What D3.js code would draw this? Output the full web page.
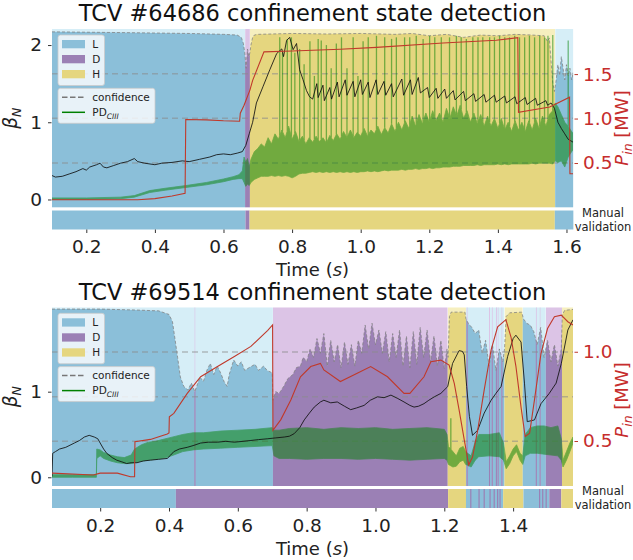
<!DOCTYPE html>
<html>
<head>
<meta charset="utf-8">
<script src="https://d3js.org/d3.v7.min.js"></script>
<style>
  body { margin: 0; background: #fff; }
  svg { font-family: "DejaVu Sans", sans-serif; }
</style>
</head>
<body>
<svg id="chart" width="633" height="560"></svg>
<script>
// ---- shot 64686 (top) ----
var topStates = [[0.1, 0.663, "L"], [0.663, 0.677, "D"], [0.677, 1.567, "H"], [1.567, 1.62, "L"]];
var topManual = [[0.1, 0.664, "L"], [0.664, 0.676, "D"], [0.676, 1.566, "H"], [1.566, 1.62, "L"]];
var topConf = [[0.1,0.984],[0.3,0.98],[0.5,0.975],[0.6,0.97],[0.64,0.966],[0.652,0.953],[0.658,0.919],[0.662,0.867],[0.666,0.78],[0.67,0.888],[0.674,0.845],[0.677,0.867],[0.68,0.91],[0.685,0.953],[0.69,0.966],[0.7,0.97],[0.8,0.975],[0.9,0.972],[1.0,0.975],[1.1,0.97],[1.15,0.975],[1.2,0.962],[1.25,0.97],[1.3,0.953],[1.35,0.966],[1.4,0.962],[1.45,0.97],[1.5,0.966],[1.535,0.962],[1.545,0.93],[1.55,0.95],[1.555,0.82],[1.56,0.7],[1.565,0.65],[1.57,0.715],[1.575,0.8],[1.58,0.74],[1.585,0.845],[1.59,0.78],[1.595,0.715],[1.6,0.8],[1.605,0.737],[1.61,0.78],[1.615,0.715],[1.62,0.76]];
var topBeta = [[0.1,0.31],[0.11,0.29],[0.13,0.30],[0.15,0.33],[0.17,0.36],[0.19,0.40],[0.2,0.38],[0.21,0.42],[0.23,0.45],[0.24,0.47],[0.25,0.42],[0.26,0.41],[0.28,0.44],[0.3,0.47],[0.32,0.49],[0.34,0.53],[0.35,0.49],[0.37,0.47],[0.4,0.45],[0.42,0.47],[0.45,0.48],[0.48,0.50],[0.5,0.49],[0.53,0.52],[0.56,0.55],[0.58,0.58],[0.6,0.59],[0.62,0.58],[0.64,0.6],[0.655,0.62],[0.665,0.7],[0.675,0.85],[0.685,1.0],[0.696,1.25],[0.715,1.46],[0.735,1.68],[0.755,1.89],[0.77,1.95],[0.775,1.85],[0.784,2.06],[0.793,2.1],[0.803,1.94],[0.813,2.02],[0.822,1.68],[0.832,1.55],[0.842,1.41],[0.851,1.33],[0.86,1.30],[0.872,1.5],[0.876,1.32],[0.89,1.48],[0.894,1.28],[0.91,1.45],[0.915,1.30],[0.932,1.52],[0.937,1.33],[0.955,1.55],[0.96,1.35],[0.978,1.53],[0.983,1.33],[1.0,1.55],[1.005,1.36],[1.022,1.52],[1.027,1.32],[1.045,1.55],[1.05,1.36],[1.068,1.53],[1.073,1.35],[1.09,1.5],[1.095,1.33],[1.12,1.56],[1.125,1.35],[1.145,1.55],[1.15,1.36],[1.168,1.58],[1.174,1.38],[1.195,1.45],[1.2,1.32],[1.22,1.44],[1.225,1.31],[1.245,1.43],[1.25,1.31],[1.27,1.41],[1.275,1.29],[1.3,1.4],[1.305,1.28],[1.33,1.37],[1.335,1.27],[1.36,1.36],[1.365,1.26],[1.39,1.35],[1.395,1.26],[1.42,1.34],[1.425,1.25],[1.45,1.33],[1.455,1.24],[1.48,1.32],[1.485,1.23],[1.51,1.31],[1.515,1.22],[1.54,1.28],[1.545,1.22],[1.555,1.25],[1.565,1.18],[1.575,1.0],[1.585,0.92],[1.595,0.85],[1.605,0.78],[1.62,0.74]];
var topPin = [[0.1,0.087],[0.35,0.087],[0.4,0.1],[0.45,0.13],[0.488,0.16],[0.49,0.99],[0.55,0.985],[0.6,0.975],[0.647,0.97],[0.649,1.06],[0.66,1.15],[0.677,1.32],[0.685,1.43],[0.718,1.75],[0.8,1.76],[0.94,1.78],[1.046,1.8],[1.24,1.85],[1.395,1.88],[1.458,1.91],[1.46,1.07],[1.551,1.13],[1.609,1.24],[1.61,0.38],[1.62,0.38]];
var topPD = [[0.10,0.00,0.02],[0.20,0.00,0.02],[0.30,0.01,0.03],[0.34,0.03,0.05],[0.385,0.09,0.115],[0.43,0.12,0.145],[0.49,0.155,0.18],[0.55,0.19,0.22],[0.60,0.23,0.265],[0.628,0.26,0.295],[0.645,0.27,0.32],[0.655,0.27,0.37],[0.66,0.22,0.55],[0.665,0.17,0.48],[0.67,0.2,0.53],[0.675,0.18,0.42],[0.68,0.22,0.52],[0.69,0.26,0.62],[0.70,0.28,0.66],[0.71,0.3,0.72],[0.72,0.3,0.68],[0.73,0.3,0.8],[0.74,0.31,0.72],[0.75,0.3,0.85],[0.76,0.31,0.78],[0.77,0.3,0.9],[0.78,0.31,0.8],[0.79,0.3,0.95],[0.80,0.28,0.78],[0.81,0.3,0.88],[0.82,0.33,0.75],[0.83,0.34,0.82],[0.84,0.34,0.72],[0.85,0.35,0.8],[0.86,0.36,0.74],[0.87,0.35,0.82],[0.88,0.36,0.75],[0.89,0.35,0.8],[0.90,0.36,0.73],[0.91,0.35,0.83],[0.92,0.36,0.76],[0.93,0.35,0.85],[0.94,0.36,0.78],[0.95,0.35,0.88],[0.96,0.36,0.8],[0.97,0.35,0.9],[0.98,0.36,0.8],[0.99,0.35,0.87],[1.00,0.36,0.82],[1.01,0.36,0.92],[1.02,0.37,0.82],[1.03,0.36,0.9],[1.04,0.37,0.85],[1.05,0.36,0.95],[1.06,0.37,0.84],[1.07,0.38,0.93],[1.08,0.37,0.86],[1.09,0.38,0.98],[1.10,0.38,0.88],[1.11,0.38,1.0],[1.12,0.39,0.9],[1.13,0.38,1.02],[1.14,0.39,0.92],[1.15,0.39,1.08],[1.16,0.40,0.95],[1.17,0.39,1.1],[1.18,0.4,0.98],[1.19,0.4,1.12],[1.20,0.41,1.0],[1.21,0.4,1.15],[1.22,0.41,1.02],[1.23,0.41,1.12],[1.24,0.42,1.0],[1.25,0.42,1.18],[1.26,0.42,1.05],[1.27,0.43,1.2],[1.28,0.43,1.08],[1.29,0.43,1.22],[1.30,0.44,1.05],[1.31,0.44,1.15],[1.32,0.44,1.0],[1.33,0.44,1.12],[1.34,0.45,0.98],[1.35,0.44,1.1],[1.36,0.45,0.95],[1.37,0.45,1.08],[1.38,0.45,0.95],[1.39,0.45,1.05],[1.40,0.46,0.92],[1.41,0.45,1.05],[1.42,0.46,0.9],[1.43,0.45,1.0],[1.44,0.46,0.88],[1.45,0.46,1.02],[1.46,0.46,0.9],[1.47,0.46,1.0],[1.48,0.46,0.88],[1.49,0.46,1.02],[1.50,0.47,0.9],[1.51,0.46,1.05],[1.52,0.47,0.92],[1.53,0.47,1.08],[1.54,0.47,0.95],[1.55,0.47,1.1],[1.56,0.46,1.15],[1.567,0.5,1.25],[1.575,0.48,1.2],[1.585,0.5,1.1],[1.595,0.42,1.0],[1.605,0.55,0.95],[1.612,0.6,0.9],[1.62,0.65,0.85]];
var topSpikes = [[0.764,2.1],[0.772,1.9],[0.786,2.08],[0.798,2.1],[0.808,1.9],[0.822,1.95],[0.835,1.75],[0.852,2.05],[0.865,1.6],[0.876,2.08],[0.885,2.06],[0.9,2.0],[0.914,1.7],[0.929,2.02],[0.944,2.1],[0.96,1.7],[0.978,2.1],[0.992,1.6],[1.007,2.05],[1.022,2.1],[1.046,2.12],[1.07,2.1],[1.09,2.08],[1.104,2.1],[1.128,2.1],[1.143,2.1],[1.162,2.12],[1.182,2.08],[1.201,2.12],[1.216,2.1],[1.235,2.1],[1.259,2.1],[1.279,2.12],[1.293,2.1],[1.308,2.08],[1.327,2.1],[1.342,2.1],[1.356,2.1],[1.376,2.1],[1.39,2.1],[1.405,2.12],[1.42,2.1],[1.434,2.1],[1.449,2.12],[1.463,2.1],[1.478,2.1],[1.492,2.12],[1.507,2.1],[1.522,2.12],[1.536,2.1],[1.546,2.12],[1.56,2.13],[1.605,2.06]];

// ---- shot 69514 (bottom) ----
var botStates = [[0.06,0.702,"L"],[0.702,1.21,"D"],[1.21,1.263,"H"],[1.263,1.375,"L"],[1.375,1.428,"H"],[1.428,1.495,"L"],[1.495,1.542,"D"],[1.542,1.574,"H"]];
var botFlickers = [0.475, 1.266, 1.331, 1.339, 1.351, 1.356, 1.367, 1.467, 1.478];
var botManual = [[0.06,0.42,"L"],[0.42,1.211,"D"],[1.211,1.263,"H"],[1.263,1.371,"L"],[1.371,1.43,"H"],[1.43,1.505,"L"],[1.505,1.54,"D"],[1.54,1.574,"H"]];
var botManualFlickers = [1.277, 1.301, 1.316, 1.333, 1.345, 1.355, 1.362, 1.477, 1.486, 1.496];
var botConf = [[0.06,0.99],[0.2,0.99],[0.3,0.985],[0.37,0.98],[0.4,0.96],[0.41,0.92],[0.418,0.815],[0.425,0.72],[0.433,0.61],[0.443,0.557],[0.455,0.537],[0.465,0.576],[0.475,0.528],[0.49,0.609],[0.5,0.585],[0.51,0.647],[0.52,0.686],[0.53,0.624],[0.54,0.671],[0.55,0.633],[0.56,0.585],[0.569,0.557],[0.575,0.624],[0.588,0.705],[0.6,0.671],[0.61,0.695],[0.62,0.647],[0.637,0.667],[0.65,0.681],[0.66,0.647],[0.675,0.671],[0.685,0.647],[0.7,0.633],[0.702,0.48],[0.71,0.528],[0.72,0.518],[0.733,0.557],[0.745,0.6],[0.76,0.624],[0.77,0.662],[0.782,0.671],[0.79,0.72],[0.8,0.695],[0.81,0.767],[0.82,0.72],[0.83,0.825],[0.84,0.743],[0.85,0.853],[0.86,0.671],[0.87,0.815],[0.88,0.695],[0.89,0.791],[0.9,0.662],[0.91,0.806],[0.92,0.681],[0.93,0.791],[0.94,0.671],[0.95,0.815],[0.96,0.743],[0.97,0.901],[0.98,0.767],[0.99,0.911],[1.0,0.791],[1.01,0.873],[1.02,0.743],[1.03,0.864],[1.04,0.695],[1.05,0.853],[1.06,0.72],[1.07,0.873],[1.08,0.671],[1.09,0.839],[1.1,0.662],[1.11,0.864],[1.12,0.681],[1.13,0.887],[1.14,0.72],[1.15,0.873],[1.16,0.695],[1.17,0.839],[1.18,0.671],[1.19,0.815],[1.2,0.657],[1.208,0.767],[1.211,0.72],[1.215,0.949],[1.22,0.973],[1.26,0.973],[1.263,0.935],[1.27,0.91],[1.28,0.887],[1.29,0.853],[1.3,0.873],[1.31,0.743],[1.32,0.815],[1.33,0.671],[1.34,0.791],[1.35,0.647],[1.36,0.767],[1.37,0.695],[1.375,0.767],[1.38,0.949],[1.39,0.969],[1.425,0.973],[1.43,0.935],[1.44,0.91],[1.45,0.9],[1.46,0.864],[1.47,0.791],[1.48,0.887],[1.49,0.719],[1.5,0.815],[1.51,0.695],[1.52,0.791],[1.53,0.671],[1.54,0.767],[1.543,0.959],[1.55,0.983],[1.574,0.988]];
var botBeta = [[0.06,0.01],[0.062,0.28],[0.07,0.3],[0.082,0.33],[0.1,0.35],[0.125,0.4],[0.14,0.43],[0.154,0.47],[0.168,0.49],[0.183,0.47],[0.193,0.45],[0.2,0.40],[0.21,0.33],[0.219,0.28],[0.235,0.23],[0.248,0.2],[0.263,0.18],[0.277,0.16],[0.29,0.17],[0.307,0.17],[0.325,0.19],[0.346,0.2],[0.37,0.21],[0.395,0.22],[0.405,0.26],[0.414,0.3],[0.43,0.33],[0.453,0.35],[0.47,0.37],[0.492,0.4],[0.515,0.41],[0.541,0.41],[0.565,0.42],[0.59,0.41],[0.615,0.42],[0.638,0.43],[0.66,0.44],[0.687,0.45],[0.71,0.46],[0.735,0.47],[0.75,0.48],[0.764,0.51],[0.78,0.58],[0.793,0.67],[0.808,0.75],[0.822,0.82],[0.84,0.88],[0.85,0.9],[0.87,0.87],[0.889,0.88],[0.91,0.83],[0.928,0.79],[0.945,0.81],[0.967,0.84],[0.985,0.9],[1.006,0.94],[1.025,0.93],[1.045,0.96],[1.065,0.92],[1.083,0.88],[1.1,0.84],[1.112,0.82],[1.125,0.83],[1.141,0.86],[1.155,0.9],[1.171,0.94],[1.19,0.98],[1.21,1.06],[1.224,1.33],[1.243,1.48],[1.253,1.47],[1.258,1.43],[1.265,1.06],[1.273,0.71],[1.282,0.49],[1.297,0.55],[1.316,0.75],[1.336,0.9],[1.35,0.98],[1.365,1.06],[1.384,1.41],[1.4,1.62],[1.408,1.66],[1.423,1.58],[1.433,1.1],[1.441,0.65],[1.462,0.67],[1.481,0.86],[1.505,0.98],[1.525,1.1],[1.54,1.33],[1.559,1.72],[1.574,1.84]];
var botPin = [[0.06,0.32],[0.18,0.31],[0.2,0.32],[0.25,0.32],[0.288,0.30],[0.3,0.30],[0.301,0.496],[0.346,0.509],[0.395,0.539],[0.4,0.545],[0.401,0.636],[0.414,0.655],[0.453,0.767],[0.492,0.86],[0.541,0.917],[0.59,0.973],[0.638,1.03],[0.687,1.12],[0.701,1.15],[0.702,0.56],[0.725,0.62],[0.754,0.73],[0.782,0.86],[0.812,0.917],[0.84,0.935],[0.85,0.898],[0.898,0.833],[0.947,0.88],[0.986,0.917],[1.035,0.86],[1.083,0.767],[1.1,0.767],[1.141,0.86],[1.161,0.944],[1.19,0.953],[1.214,0.925],[1.229,0.823],[1.243,0.674],[1.258,0.506],[1.271,0.366],[1.282,0.41],[1.297,0.56],[1.316,0.786],[1.336,1.01],[1.355,1.14],[1.379,1.18],[1.394,1.08],[1.408,0.92],[1.423,0.69],[1.435,0.525],[1.448,0.544],[1.462,0.73],[1.481,0.99],[1.5,1.13],[1.52,1.196],[1.54,1.205],[1.559,1.168],[1.574,1.15]];
var botPD = [[0.06,0.0,0.03],[0.12,0.0,0.03],[0.189,0.0,0.03],[0.19,0.22,0.33],[0.2,0.25,0.32],[0.21,0.22,0.29],[0.23,0.19,0.26],[0.25,0.17,0.24],[0.27,0.16,0.23],[0.29,0.16,0.26],[0.3,0.17,0.33],[0.32,0.19,0.38],[0.34,0.2,0.41],[0.36,0.21,0.42],[0.38,0.22,0.44],[0.4,0.24,0.46],[0.42,0.27,0.48],[0.44,0.3,0.5],[0.47,0.32,0.52],[0.5,0.33,0.52],[0.55,0.34,0.54],[0.6,0.35,0.55],[0.65,0.36,0.56],[0.7,0.37,0.58],[0.705,0.25,0.55],[0.72,0.22,0.55],[0.75,0.22,0.57],[0.8,0.21,0.58],[0.85,0.22,0.56],[0.9,0.22,0.58],[0.95,0.21,0.57],[1.0,0.22,0.58],[1.05,0.21,0.56],[1.1,0.2,0.57],[1.15,0.21,0.58],[1.2,0.22,0.56],[1.208,0.2,0.5],[1.212,0.15,0.36],[1.225,0.12,0.3],[1.235,0.13,0.25],[1.245,0.18,0.34],[1.255,0.2,0.36],[1.262,0.15,0.3],[1.268,0.14,0.28],[1.278,0.12,0.25],[1.29,0.2,0.42],[1.3,0.24,0.5],[1.33,0.25,0.5],[1.36,0.24,0.52],[1.372,0.2,0.4],[1.38,0.1,0.18],[1.39,0.16,0.25],[1.4,0.25,0.33],[1.41,0.3,0.38],[1.42,0.2,0.28],[1.428,0.15,0.25],[1.435,0.25,0.5],[1.45,0.28,0.58],[1.47,0.28,0.6],[1.49,0.27,0.6],[1.51,0.26,0.58],[1.53,0.25,0.6],[1.54,0.2,0.45],[1.545,0.12,0.2],[1.555,0.2,0.3],[1.565,0.3,0.4],[1.574,0.4,0.47]];
var botSpikes = [[1.219,0.69]];

var timeTicksTop = [0.2, 0.4, 0.6, 0.8, 1.0, 1.2, 1.4, 1.6];
var timeTicksBot = [0.2, 0.4, 0.6, 0.8, 1.0, 1.2, 1.4];
var stateNames = ["L", "D", "H"];
var confLevels = [0.25, 0.5, 0.75];

var strong = { L: "#8bbfd9", D: "#9b80b5", H: "#e5d67f" };
var light = { L: "#d6eef7", D: "#dcc4e6", H: "#f6efbf" };
var redCol = "#c0392b";

var svg = d3.select("#chart");
var defs = svg.append("defs");
var clipN = 0;
var x0 = 52, x1 = 573;

function newClip(x, y, w, h) {
  var id = "clip" + (clipN++);
  defs.append("clipPath").attr("id", id).append("rect")
    .attr("x", x).attr("y", y).attr("width", w).attr("height", h);
  return "url(#" + id + ")";
}

function drawPanel(p) {
  var x = d3.scaleLinear().domain(p.xDomain).range([x0, x1]);
  var y = d3.scaleLinear().domain(p.yDomain).range([p.bottom, p.top]);
  var yp = d3.scaleLinear().domain(p.pDomain).range([p.bottom, p.top]);
  var yc = d3.scaleLinear().domain([0, 1]).range([p.bottom, p.top]);
  var g = svg.append("g");
  var h = p.bottom - p.top;

  var confArea = d3.area().x(function(d) { return x(d[0]); }).y0(p.bottom).y1(function(d) { return yc(d[1]); });

  function segment(t0, t1, s) {
    var w = Math.max(x(t1) - x(t0), 1.1);
    var sg = g.append("g").attr("clip-path", newClip(x(t0), p.top, w, h));
    sg.append("rect").attr("x", x(t0)).attr("y", p.top).attr("width", w).attr("height", h).attr("fill", light[s]);
    sg.append("path").datum(p.conf).attr("d", confArea).attr("fill", strong[s]);
  }
  p.states.forEach(function(s) { segment(s[0], s[1], s[2]); });
  p.flickers.forEach(function(t) { segment(t - 0.0012, t + 0.0012, "D"); });

  var main = g.append("g").attr("clip-path", newClip(x0, p.top, x1 - x0, h));

  // confidence curve
  main.append("path").datum(p.conf)
    .attr("d", d3.line().x(function(d) { return x(d[0]); }).y(function(d) { return yc(d[1]); }))
    .attr("fill", "none").attr("stroke", "#808080").attr("stroke-opacity", 0.75)
    .attr("stroke-width", 1).attr("stroke-dasharray", "3,2");

  // confidence levels
  main.selectAll(".lvl").data(confLevels).enter().append("line")
    .attr("x1", x0).attr("x2", x1)
    .attr("y1", function(d) { return yc(d); }).attr("y2", function(d) { return yc(d); })
    .attr("stroke", "#8a8a8a").attr("stroke-opacity", 0.55)
    .attr("stroke-width", 1.5).attr("stroke-dasharray", "6,4");

  // photodiode
  var pd = main.append("g").attr("opacity", 0.5);
  pd.append("path").datum(p.pd)
    .attr("d", d3.area().x(function(d) { return x(d[0]); }).y0(function(d) { return y(d[1]); }).y1(function(d) { return y(d[2]); }))
    .attr("fill", "#008000").attr("stroke", "#008000").attr("stroke-width", 0.8);
  var base = d3.scaleLinear().domain(p.pd.map(function(d) { return d[0]; })).range(p.pd.map(function(d) { return d[2]; }));
  pd.selectAll(".spk").data(p.spikes).enter().append("line")
    .attr("x1", function(d) { return x(d[0]); }).attr("x2", function(d) { return x(d[0]); })
    .attr("y1", function(d) { return y(base(d[0])); }).attr("y2", function(d) { return y(d[1]); })
    .attr("stroke", "#008000").attr("stroke-width", 1.3);

  // beta_N
  main.append("path").datum(p.beta)
    .attr("d", d3.line().x(function(d) { return x(d[0]); }).y(function(d) { return y(d[1]); }))
    .attr("fill", "none").attr("stroke", "#111").attr("stroke-opacity", 0.85).attr("stroke-width", 1);

  // input power
  main.append("path").datum(p.pin)
    .attr("d", d3.line().x(function(d) { return x(d[0]); }).y(function(d) { return yp(d[1]); }))
    .attr("fill", "none").attr("stroke", redCol).attr("stroke-width", 1.1);

  // manual validation strip
  var sh = p.stripBottom - p.stripTop;
  g.selectAll(".man").data(p.manual).enter().append("rect")
    .attr("x", function(d) { return x(d[0]); }).attr("y", p.stripTop)
    .attr("width", function(d) { return x(d[1]) - x(d[0]); }).attr("height", sh)
    .attr("fill", function(d) { return strong[d[2]]; });
  g.selectAll(".manf").data(p.manualFlickers).enter().append("rect")
    .attr("x", function(d) { return x(d) - 0.6; }).attr("y", p.stripTop)
    .attr("width", 1.2).attr("height", sh).attr("fill", strong.D);
  g.append("text").attr("x", 603).attr("y", p.stripTop + 6).attr("font-size", 11.5)
    .attr("fill", "#222").attr("text-anchor", "middle").text("Manual");
  g.append("text").attr("x", 603).attr("y", p.stripTop + 20).attr("font-size", 11.5)
    .attr("fill", "#222").attr("text-anchor", "middle").text("validation");

  // axes
  var ax = g.append("g").attr("transform", "translate(0," + p.stripBottom + ")")
    .call(d3.axisBottom(x).tickValues(p.xTicks).tickFormat(d3.format(".1f")).tickSize(3.5).tickPadding(7));
  var ay = g.append("g").attr("transform", "translate(" + (x0 - 0.5) + ",0)")
    .call(d3.axisLeft(y).tickValues(p.yTicks).tickFormat(d3.format("d")).tickSize(3.5).tickPadding(6));
  var ar = g.append("g").attr("transform", "translate(" + (x1 + 1.5) + ",0)")
    .call(d3.axisRight(yp).tickValues(p.pTicks).tickFormat(d3.format(".1f")).tickSize(3.5).tickPadding(5));
  [ax, ay, ar].forEach(function(a) {
    a.attr("font-size", 18.5).attr("font-family", "DejaVu Sans, sans-serif");
    a.select(".domain").remove();
    a.selectAll("line").attr("stroke", "#333").attr("stroke-width", 1);
    a.selectAll("text").attr("fill", "#222");
  });
  ar.selectAll("line").attr("stroke", redCol);
  ar.selectAll("text").attr("fill", "#c62d2d");

  // titles and labels
  g.append("text").attr("x", (x0 + x1) / 2).attr("y", p.titleY).attr("text-anchor", "middle")
    .attr("font-size", 22.5).attr("fill", "#111").text(p.title);
  var tl = g.append("text").attr("x", (x0 + x1) / 2).attr("y", p.stripBottom + 46.5)
    .attr("text-anchor", "middle").attr("font-size", 18).attr("fill", "#222");
  tl.append("tspan").text("Time (");
  tl.append("tspan").attr("font-style", "italic").text("s");
  tl.append("tspan").text(")");

  var bl = g.append("text").attr("transform", "translate(17," + ((p.top + p.bottom) / 2) + ") rotate(-90)")
    .attr("text-anchor", "middle").attr("font-size", 18.5).attr("fill", "#222");
  bl.append("tspan").attr("font-style", "italic").text("β");
  bl.append("tspan").attr("font-style", "italic").attr("font-size", 12.5).attr("dy", 4).text("N");

  var pl = g.append("text").attr("transform", "translate(627.5," + p.pLabelY + ") rotate(-90)")
    .attr("text-anchor", "middle").attr("font-size", 18).attr("fill", "#c62d2d");
  pl.append("tspan").attr("font-style", "italic").text("P");
  pl.append("tspan").attr("font-style", "italic").attr("font-size", 12.5).attr("dy", 4).text("in");
  pl.append("tspan").attr("dy", -4).text(" [MW]");

  // legends
  var lg = g.append("g").attr("font-size", 10.5).attr("fill", "#222");
  lg.append("rect").attr("x", 58).attr("y", p.top + 6).attr("width", 46.5).attr("height", 50.5)
    .attr("rx", 2.5).attr("fill", "#fff").attr("fill-opacity", 0.8).attr("stroke", "#ccc").attr("stroke-width", 0.8);
  stateNames.forEach(function(s, i) {
    lg.append("rect").attr("x", 62).attr("y", p.top + 11 + i * 15).attr("width", 23).attr("height", 8.3).attr("fill", strong[s]);
    lg.append("text").attr("x", 92.3).attr("y", p.top + 18.5 + i * 15).text(s);
  });
  lg.append("rect").attr("x", 58).attr("y", p.top + 59.3).attr("width", 97).attr("height", 35)
    .attr("rx", 2.5).attr("fill", "#fff").attr("fill-opacity", 0.8).attr("stroke", "#ccc").attr("stroke-width", 0.8);
  lg.append("line").attr("x1", 62).attr("x2", 84).attr("y1", p.top + 68.3).attr("y2", p.top + 68.3)
    .attr("stroke", "#777").attr("stroke-width", 1.5).attr("stroke-dasharray", "5.5,2.5");
  lg.append("text").attr("x", 92.3).attr("y", p.top + 72).text("confidence");
  lg.append("line").attr("x1", 62).attr("x2", 85).attr("y1", p.top + 83.3).attr("y2", p.top + 83.3)
    .attr("stroke", "#008000").attr("stroke-width", 1.5);
  var pt = lg.append("text").attr("x", 92.3).attr("y", p.top + 87);
  pt.append("tspan").text("PD");
  pt.append("tspan").attr("font-size", 7.5).attr("font-style", "italic").attr("dy", 2.5).text("CIII");
}

drawPanel({
  title: "TCV #64686 confinement state detection", titleY: 20.5,
  top: 29, bottom: 207.5, stripTop: 210.5, stripBottom: 229.5, pLabelY: 128,
  xDomain: [0.1, 1.619], yDomain: [-0.104, 2.208], pDomain: [0, 2.007],
  xTicks: timeTicksTop, yTicks: [0, 1, 2], pTicks: [0.5, 1.0, 1.5],
  states: topStates, flickers: [], manual: topManual, manualFlickers: [],
  conf: topConf, beta: topBeta, pin: topPin, pd: topPD, spikes: topSpikes
});

drawPanel({
  title: "TCV #69514 confinement state detection", titleY: 300,
  top: 307.3, bottom: 486, stripTop: 489, stripBottom: 508, pLabelY: 400,
  xDomain: [0.06, 1.574], yDomain: [-0.102, 1.986], pDomain: [0.248, 1.249],
  xTicks: timeTicksBot, yTicks: [0, 1], pTicks: [0.5, 1.0],
  states: botStates, flickers: botFlickers, manual: botManual, manualFlickers: botManualFlickers,
  conf: botConf, beta: botBeta, pin: botPin, pd: botPD, spikes: botSpikes
});
</script>
</body>
</html>
